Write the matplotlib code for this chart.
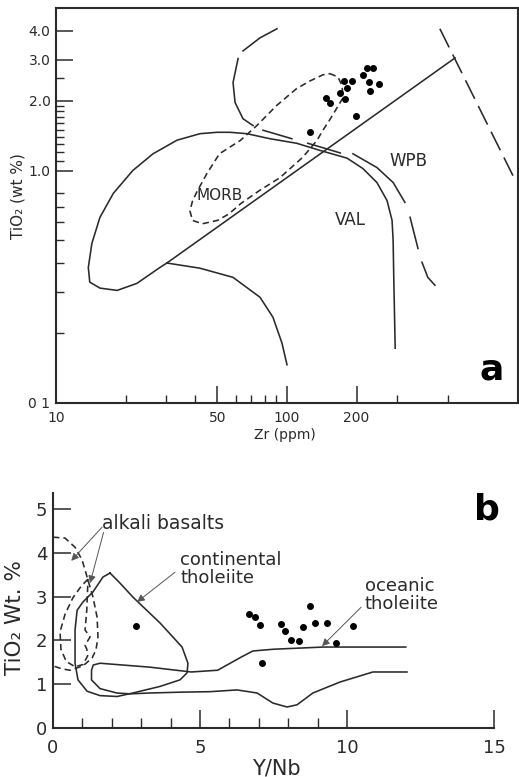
import matplotlib
matplotlib.use('Agg')
import matplotlib.pyplot as plt
from matplotlib.ticker import FixedLocator, FixedFormatter, NullFormatter

plt.rcParams['font.family'] = ['DejaVu Sans']

# ---------- panel a : TiO2 vs Zr (log-log) ----------
morb_zr = [153, 166, 173, 175, 164, 153, 143, 135, 117, 93, 76, 63, 56, 50, 43, 39,
           38, 39, 41, 45, 51, 63, 74, 90, 110, 126, 143, 153]
morb_ti = [2.61, 2.53, 2.32, 2.06, 1.85, 1.65, 1.49, 1.35, 1.14, 0.93, 0.82, 0.72, 0.65,
           0.61, 0.59, 0.61, 0.67, 0.74, 0.82, 0.97, 1.18, 1.35, 1.56, 1.90, 2.25, 2.43,
           2.58, 2.61]

val_zr = [30.2, 28.2, 22.4, 18.4, 15.5, 14.0, 13.8, 14.3, 15.5, 17.7, 21.5, 26.3, 33.4,
          42.0, 49.8, 56.6, 67.1, 84.3, 110, 139, 182, 213, 245, 271, 285, 288, 290, 294]
val_ti = [0.40, 0.383, 0.327, 0.305, 0.312, 0.331, 0.383, 0.486, 0.629, 0.797, 1.0, 1.18,
          1.35, 1.44, 1.46, 1.46, 1.44, 1.37, 1.31, 1.22, 1.13, 1.02, 0.888, 0.743, 0.610,
          0.501, 0.337, 0.172]

low_zr = [30.2, 42.0, 58.4, 76.4, 86.9, 95.1, 100]
low_ti = [0.40, 0.38, 0.347, 0.285, 0.234, 0.181, 0.146]

diag_zr = [30.2, 534]
diag_ti = [0.40, 3.05]

edge_zr = [459, 951]
edge_ti = [4.07, 0.95]

wpb_zr = [90.5, 76.4, 64.5, 61.4, 58.4, 59.6, 64.5, 71.3, 78.7, 105, 123, 170, 193, 245,
          288, 324, 341, 369, 384, 407, 437]
wpb_ti = [4.07, 3.72, 3.27, 3.03, 2.39, 1.96, 1.67, 1.56, 1.49, 1.37, 1.31, 1.19, 1.18,
          1.03, 0.888, 0.729, 0.629, 0.462, 0.403, 0.347, 0.321]

pts_zr = [126, 148, 154, 170, 176, 191, 182, 178, 199, 213, 222, 236, 227, 250, 229]
pts_ti = [1.47, 2.06, 1.96, 2.16, 2.43, 2.43, 2.27, 2.04, 1.71, 2.58, 2.77, 2.77, 2.41,
          2.36, 2.20]

# ---------- panel b : TiO2 vs Y/Nb ----------
alk1_yn = [0, 0.41, 0.75, 0.99, 1.19, 1.36, 1.50, 1.53, 1.46, 1.33, 1.02, 0.58, 0.31, 0]
alk1_ti = [4.36, 4.34, 4.13, 3.84, 3.38, 2.99, 2.53, 2.08, 1.78, 1.60, 1.42, 1.32, 1.35, 1.42]

alk2_yn = [1.19, 0.97, 0.68, 0.41, 0.24, 0.27, 0.45, 0.75, 1.02, 1.18, 1.15, 1.09, 1.26,
           1.09, 1.15, 1.19]
alk2_ti = [3.40, 3.25, 2.98, 2.60, 2.20, 1.80, 1.52, 1.40, 1.45, 1.65, 1.80, 1.89, 2.08,
           2.24, 2.70, 3.40]

cont_yn = [1.94, 1.70, 1.36, 1.02, 0.82, 0.75, 0.75, 0.85, 1.16, 1.6, 2.18, 2.72, 3.64,
           4.32, 4.56, 4.59, 4.39, 3.64, 2.72, 2.21, 1.94]
cont_ti = [3.54, 3.45, 3.11, 2.88, 2.69, 2.24, 1.48, 1.10, 0.84, 0.74, 0.72, 0.80, 0.95,
           1.10, 1.26, 1.48, 1.85, 2.40, 2.99, 3.36, 3.54]

oce_yn = [12.0, 10.5, 9.2, 7.5, 6.8, 6.4, 5.6, 4.7, 3.3, 1.6, 1.37, 1.31, 1.31, 1.6, 2.17,
          2.62, 3.3, 4.42, 5.34, 6.26, 6.94, 7.48, 7.96, 8.3, 8.84, 9.76, 10.88, 12.04]
oce_ti = [1.85, 1.85, 1.85, 1.80, 1.76, 1.62, 1.32, 1.28, 1.39, 1.48, 1.44, 1.32, 1.10,
          0.90, 0.80, 0.78, 0.80, 0.82, 0.83, 0.87, 0.80, 0.57, 0.48, 0.53, 0.80, 1.05,
          1.28, 1.28]

b_yn = [2.82, 6.67, 6.87, 7.04, 7.11, 7.76, 7.89, 8.10, 8.37, 8.50, 8.74, 8.91, 9.32, 9.63, 10.2]
b_ti = [2.33, 2.60, 2.53, 2.35, 1.48, 2.37, 2.21, 2.01, 1.99, 2.31, 2.79, 2.40, 2.40, 1.94, 2.33]

LW = 1.15
K = '#2a2a2a'

fig = plt.figure(figsize=(5.19, 7.77), dpi=100)

# ---- panel a ----
ax = fig.add_axes([56 / 519, 1 - 403 / 777, 462 / 519, 395 / 777])
ax.set_xscale('log')
ax.set_yscale('log')
ax.set_xlim(10, 1000)
ax.set_ylim(0.1, 5.0)

ax.plot(val_zr, val_ti, color=K, lw=LW)
ax.plot(low_zr, low_ti, color=K, lw=LW)
ax.plot(diag_zr, diag_ti, color=K, lw=LW)
ax.plot(morb_zr, morb_ti, color=K, lw=LW, ls=(0, (4, 2.5)))
ax.plot(edge_zr, edge_ti, color=K, lw=LW, ls=(0, (13, 5)))
# arc + WPB boundary drawn as broken pieces
for i, j in [(0, 2), (3, 7), (8, 9), (10, 11), (12, 15), (16, 17), (18, 20)]:
    ax.plot(wpb_zr[i:j + 1], wpb_ti[i:j + 1], color=K, lw=LW)
ax.plot(pts_zr, pts_ti, 'o', color='k', ms=4)

ax.text(51, 0.78, 'MORB', fontsize=11, ha='center', va='center', color=K)
ax.text(188, 0.61, 'VAL', fontsize=12, ha='center', va='center', color=K)
ax.text(337, 1.10, 'WPB', fontsize=12, ha='center', va='center', color=K)
ax.text(0.944, 0.084, 'a', transform=ax.transAxes, fontsize=26, fontweight='bold',
        ha='center', va='center')

ax.xaxis.set_major_locator(FixedLocator([10, 50, 100, 200]))
ax.xaxis.set_major_formatter(FixedFormatter(['10', '50', '100', '200']))
ax.xaxis.set_minor_locator(FixedLocator([20, 30, 40, 60, 70, 80, 90, 300, 500]))
ax.xaxis.set_minor_formatter(NullFormatter())
ax.yaxis.set_major_locator(FixedLocator([0.1, 1, 2, 3, 4]))
ax.yaxis.set_major_formatter(FixedFormatter(['0 1', '1.0', '2.0', '3.0', '4.0']))
ax.yaxis.set_minor_locator(FixedLocator([0.2, 0.3, 0.4, 0.5, 0.6, 0.7, 0.8, 1.1, 1.2, 1.3,
                                         1.4, 1.5, 1.6, 1.7, 1.8, 1.9, 2.5]))
ax.yaxis.set_minor_formatter(NullFormatter())
ax.tick_params(which='major', direction='in', length=12, width=1.1, labelsize=10, colors=K)
ax.tick_params(axis='x', which='major', pad=6)
ax.tick_params(axis='y', which='major', pad=4)
ax.tick_params(which='minor', direction='in', length=6, width=1.0, colors=K)
for s in ax.spines.values():
    s.set_linewidth(1.5)
    s.set_color(K)
ax.set_xlabel('Zr (ppm)', fontsize=10, color=K)
ax.xaxis.set_label_coords(0.496, -0.063)
ax.set_ylabel('TiO₂ (wt %)', fontsize=11, color=K)
ax.yaxis.set_label_coords(-0.067, 0.524)

# ---- panel b ----
bx = fig.add_axes([53 / 519, 1 - 728 / 777, 441 / 519, 235 / 777])
bx.set_xlim(0, 15)
bx.set_ylim(0, 5.37)

bx.plot(alk1_yn, alk1_ti, color=K, lw=LW, ls=(0, (4, 2.5)))
bx.plot(alk2_yn, alk2_ti, color=K, lw=LW, ls=(0, (4, 2.5)))
bx.plot(cont_yn, cont_ti, color=K, lw=LW)
bx.plot(oce_yn, oce_ti, color=K, lw=LW)
bx.plot(b_yn, b_ti, 'o', color='k', ms=4)

arrow = dict(arrowstyle='-|>', lw=0.7, color='#555555', mutation_scale=11, shrinkA=0, shrinkB=0)
bx.text(1.67, 4.68, 'alkali basalts', fontsize=13.5, ha='left', va='center', color=K)
bx.annotate('', xy=(0.62, 3.82), xytext=(1.67, 4.59), arrowprops=arrow)
bx.annotate('', xy=(1.26, 3.31), xytext=(1.72, 4.47), arrowprops=arrow)
bx.text(4.32, 3.63, 'continental\ntholeiite', fontsize=13, ha='left', va='center',
        color=K, linespacing=0.95)
bx.annotate('', xy=(2.86, 2.88), xytext=(4.15, 3.56), arrowprops=arrow)
bx.text(10.61, 3.04, 'oceanic\ntholeiite', fontsize=13, ha='left', va='center',
        color=K, linespacing=1.0)
bx.annotate('', xy=(9.15, 1.87), xytext=(10.48, 2.76), arrowprops=arrow)
bx.text(0.984, 0.928, 'b', transform=bx.transAxes, fontsize=26, fontweight='bold',
        ha='center', va='center')

bx.spines['top'].set_visible(False)
bx.spines['right'].set_visible(False)
for s in ('left', 'bottom'):
    bx.spines[s].set_linewidth(1.5)
    bx.spines[s].set_color(K)
bx.set_xticks([0, 5, 10, 15])
bx.set_xticks([1, 2, 3, 4, 6, 7, 8, 9], minor=True)
bx.set_yticks([0, 1, 2, 3, 4, 5])
bx.tick_params(which='major', direction='in', length=13, width=1.1, labelsize=13, colors=K)
bx.tick_params(axis='x', which='major', pad=8)
bx.tick_params(axis='y', which='major', pad=4)
bx.tick_params(which='minor', direction='in', length=7, width=1.0, colors=K)
bx.set_xlabel('Y/Nb', fontsize=15, color=K)
bx.xaxis.set_label_coords(0.506, -0.13)
bx.set_ylabel('TiO₂ Wt. %', fontsize=15.5, color=K)
bx.yaxis.set_label_coords(-0.0635, 0.472)

fig.savefig('out.png', dpi=100)
